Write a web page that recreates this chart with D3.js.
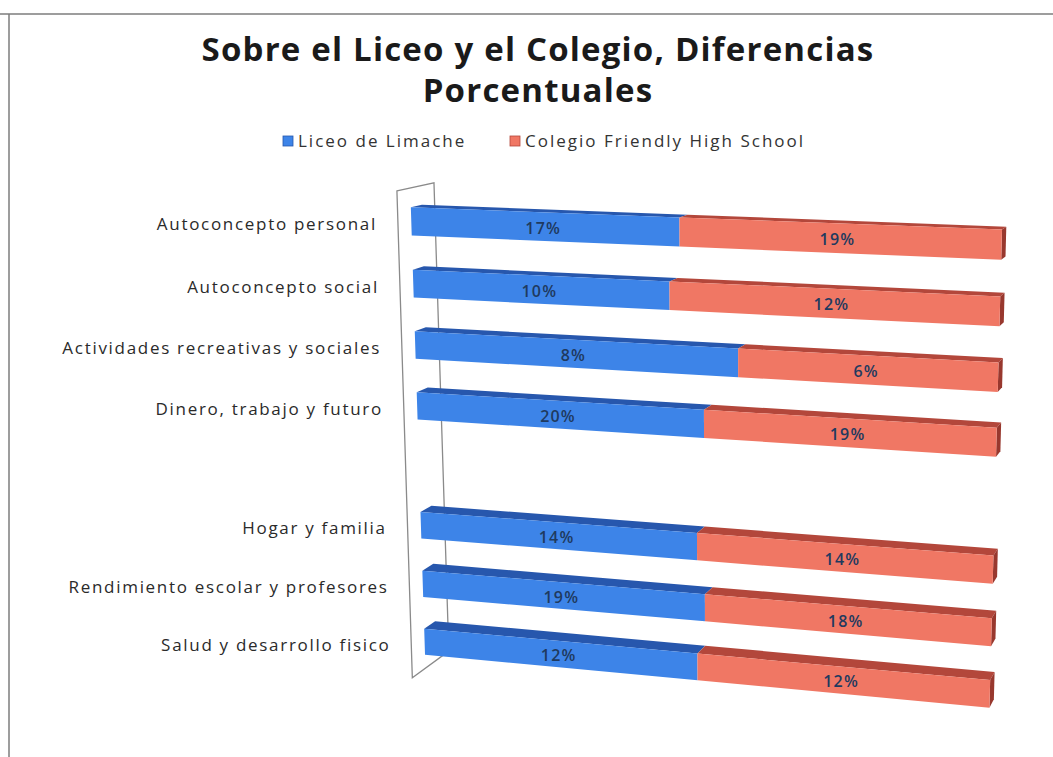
<!DOCTYPE html>
<html>
<head>
<meta charset="utf-8">
<script src="https://cdn.jsdelivr.net/npm/d3@7"></script>
<style>
  body { margin: 0; background: #fff; }
  svg { display: block; }
</style>
</head>
<body>
<script>
const titleLines = ["Sobre el Liceo y el Colegio, Diferencias", "Porcentuales"];
const seriesNames = ["Liceo de Limache", "Colegio Friendly High School"];
const categories = [
  "Autoconcepto personal",
  "Autoconcepto social",
  "Actividades recreativas y sociales",
  "Dinero, trabajo y futuro",
  "",
  "Hogar y familia",
  "Rendimiento escolar y profesores",
  "Salud y desarrollo fisico"
];
const liceo   = [17, 10, 8, 20, null, 14, 19, 12];
const colegio = [19, 12, 6, 19, null, 14, 18, 12];

const W = 1053, H = 757;
const colors = {
  liceo:   {front: "#3d84e8", top: "#2757ad", side: "#2757ad"},
  colegio: {front: "#f07764", top: "#b3473b", side: "#98382e"}
};

const svg = d3.select("body").append("svg")
  .attr("width", W)
  .attr("height", H);

// scan border (top + left)
svg.append("line").attr("x1", 0).attr("x2", W).attr("y1", 14).attr("y2", 14)
  .attr("stroke", "#7d7d7d").attr("stroke-width", 1.5);
svg.append("line").attr("x1", 9).attr("x2", 9).attr("y1", 14).attr("y2", H)
  .attr("stroke", "#7d7d7d").attr("stroke-width", 1.5);

// title
svg.append("g").selectAll("text")
  .data(titleLines)
  .join("text")
  .attr("x", 538)
  .attr("y", (d, i) => 61 + i * 41)
  .attr("text-anchor", "middle")
  .attr("font-family", "Open Sans, sans-serif")
  .attr("font-weight", 700)
  .attr("font-size", 33)
  .attr("letter-spacing", 1.2)
  .attr("fill", "#1a1a1a")
  .text(d => d);

// legend
const legendX = [283, 510];
const legend = svg.append("g").selectAll("g")
  .data(seriesNames)
  .join("g")
  .attr("transform", (d, i) => `translate(${legendX[i]},141)`);
legend.append("rect")
  .attr("x", 0).attr("y", -5).attr("width", 10).attr("height", 10)
  .attr("fill", (d, i) => i ? colors.colegio.front : colors.liceo.front)
  .attr("stroke", (d, i) => i ? colors.colegio.top : colors.liceo.top)
  .attr("stroke-width", 0.8);
legend.append("text")
  .attr("x", 15).attr("y", 6)
  .attr("font-family", "Open Sans, sans-serif")
  .attr("font-size", 17)
  .attr("letter-spacing", 2)
  .attr("fill", "#333")
  .text(d => d);

// 100% stacked data
const rows = categories.map((c, i) => ({i, liceo: liceo[i] || 0, colegio: colegio[i] || 0}));
const stacked = d3.stack().keys(["liceo", "colegio"]).offset(d3.stackOffsetExpand)(rows);

const x = d3.scaleLinear().domain([0, 1]).range([0, 1]);
const y = d3.scaleBand().domain(d3.range(categories.length)).range([0, 1])
  .paddingInner(0.55).paddingOuter(0.275);

// perspective: bar front plane is a homography of the unit square
const quad = [[410.3, 190], [1002.5, 211], [989, 724.5], [425.5, 670.4]];
const vp = [1375, -24]; // vanishing point of depth
const hom = (function (q) {
  const [x0, y0] = q[0], [x1, y1] = q[1], [x2, y2] = q[2], [x3, y3] = q[3];
  const dx1 = x1 - x2, dx2 = x3 - x2, dx3 = x0 - x1 + x2 - x3;
  const dy1 = y1 - y2, dy2 = y3 - y2, dy3 = y0 - y1 + y2 - y3;
  const den = dx1 * dy2 - dx2 * dy1;
  const g = (dx3 * dy2 - dx2 * dy3) / den;
  const h = (dx1 * dy3 - dx3 * dy1) / den;
  const a = x1 - x0 + g * x1, b = x3 - x0 + h * x3;
  const d = y1 - y0 + g * y1, e = y3 - y0 + h * y3;
  return (u, v) => {
    const w = g * u + h * v + 1;
    return [(a * u + b * v + x0) / w, (d * u + e * v + y0) / w];
  };
})(quad);

function proj(u, v, f) {
  const p = hom(u, v);
  return [p[0] + f * (vp[0] - p[0]), p[1] + f * (vp[1] - p[1])];
}
const poly = pts => "M" + pts.map(p => p.join(",")).join("L") + "Z";

// side wall
const wallF0 = -0.0138, wallF1 = 0.0246, wallV0 = -0.004, wallV1 = 0.995;
svg.append("path")
  .attr("d", poly([
    proj(0, wallV0, wallF0), proj(0, wallV0, wallF1),
    proj(0, wallV1, wallF1), proj(0, wallV1, wallF0)
  ]))
  .attr("fill", "#fff")
  .attr("stroke", "#8a8a8a")
  .attr("stroke-width", 1.3);

// category labels
svg.append("g").selectAll("text")
  .data(categories)
  .join("text")
  .attr("x", (d, i) => proj(0, y(i) + y.bandwidth() / 2, wallF0)[0] - 21)
  .attr("y", (d, i) => proj(0, y(i) + y.bandwidth() / 2, 0)[1] + 9)
  .attr("text-anchor", "end")
  .attr("font-family", "Open Sans, sans-serif")
  .attr("font-size", 17)
  .attr("letter-spacing", 1.7)
  .attr("fill", "#2a2a2a")
  .text(d => d);

// bars
const depth = 0.0115;
const bars = svg.append("g");
rows.forEach((r, i) => {
  if (liceo[i] == null) return;
  const v0 = y(i), v1 = y(i) + y.bandwidth();
  const g = bars.append("g");
  stacked.forEach((s, k) => {
    const u0 = x(s[i][0]), u1 = x(s[i][1]);
    const c = colors[s.key];
    g.append("path")
      .attr("d", poly([proj(u0, v0, 0), proj(u1, v0, 0), proj(u1, v0, depth), proj(u0, v0, depth)]))
      .attr("fill", c.top);
    if (k === stacked.length - 1) {
      g.append("path")
        .attr("d", poly([proj(u1, v0, 0), proj(u1, v1, 0), proj(u1, v1, depth), proj(u1, v0, depth)]))
        .attr("fill", c.side);
    }
    g.append("path")
      .attr("d", poly([proj(u0, v0, 0), proj(u1, v0, 0), proj(u1, v1, 0), proj(u0, v1, 0)]))
      .attr("fill", c.front);
  });
  stacked.forEach(s => {
    const vals = s.key === "liceo" ? liceo : colegio;
    const p = proj(x((s[i][0] + s[i][1]) / 2), (v0 + v1) / 2, 0);
    g.append("text")
      .attr("x", p[0])
      .attr("y", p[1] + 7)
      .attr("text-anchor", "middle")
      .attr("font-family", "Open Sans, sans-serif")
      .attr("font-weight", 600)
      .attr("font-size", 16)
      .attr("letter-spacing", 1.2)
      .attr("fill", "#1f3a5f")
      .text(vals[i] + "%");
  });
});
</script>
</body>
</html>
